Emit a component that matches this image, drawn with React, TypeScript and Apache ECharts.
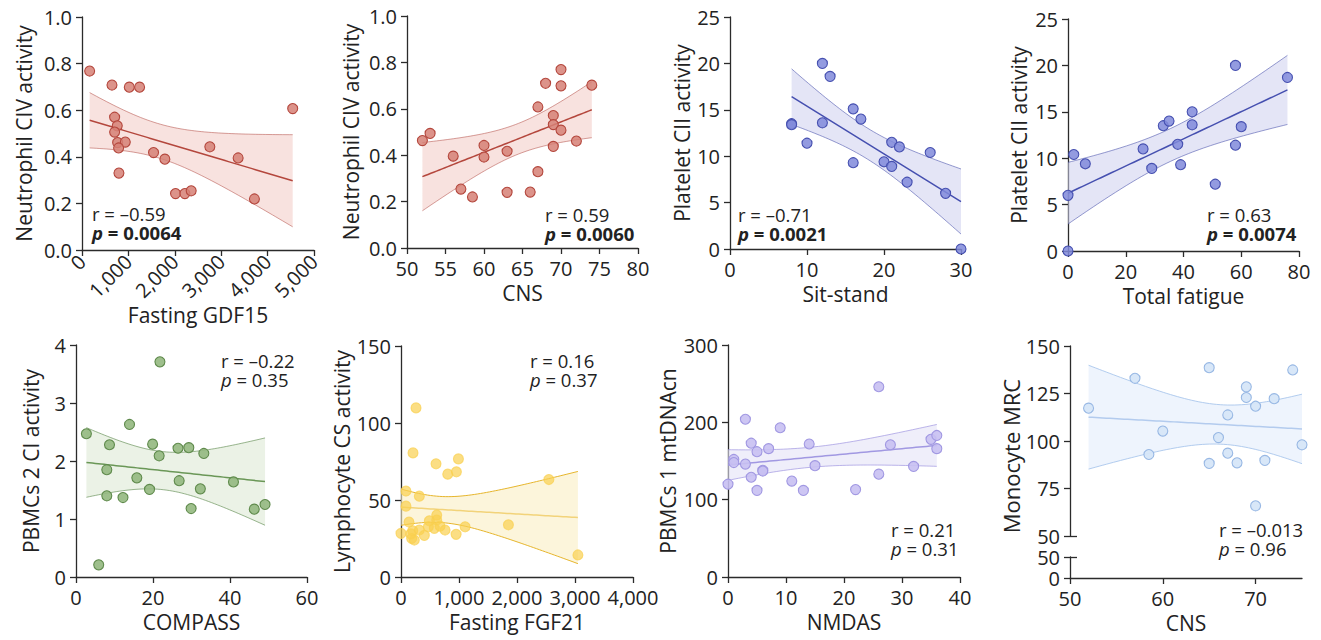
import React, { useEffect, useRef } from "react";
import * as echarts from "echarts";

const FONT = '"Open Sans", "Noto Sans", sans-serif';
const INK = "#222222";
const AXIS = "#2b2b2b";

// ---- Data ----
const P1_X = [165, 646, 1019, 1241, 4541, 703, 760, 703, 768, 933, 789, 796, 1542, 1786, 2755, 3365, 2016, 2217, 2353, 3716];
const P1_Y = [0.768, 0.708, 0.699, 0.699, 0.607, 0.57, 0.533, 0.506, 0.461, 0.463, 0.438, 0.33, 0.418, 0.39, 0.443, 0.395, 0.242, 0.242, 0.254, 0.219];

const P2_X = [52, 53, 56, 57, 58.5, 60, 60, 63, 63, 66, 67, 67, 68, 70, 70, 69, 69, 70, 69, 72, 74];
const P2_Y = [0.463, 0.494, 0.396, 0.254, 0.22, 0.442, 0.392, 0.417, 0.24, 0.241, 0.329, 0.608, 0.71, 0.769, 0.699, 0.571, 0.532, 0.508, 0.438, 0.461, 0.702];

const P3_X = [8, 8, 10, 12, 13, 12, 16, 17, 16, 20, 21, 22, 21, 23, 26, 28, 30];
const P3_Y = [13.5, 13.4, 11.4, 20.0, 18.6, 13.6, 15.1, 14.0, 9.3, 9.4, 11.5, 11.0, 8.9, 7.2, 10.4, 6.0, 0];

const P4_X = [0, 0, 2, 6, 26, 29, 33, 35, 38, 39, 43, 43, 51, 58, 58, 60, 76];
const P4_Y = [0, 6.0, 10.4, 9.4, 11.0, 8.9, 13.5, 14.0, 11.5, 9.3, 15.0, 13.6, 7.2, 20.0, 11.4, 13.4, 18.7];

const P5_X = [2.7, 8.7, 8.0, 8.0, 12.2, 13.9, 15.8, 19.1, 19.9, 21.6, 21.8, 26.5, 26.8, 29.3, 29.9, 32.3, 33.2, 40.9, 46.3, 49.1, 5.9];
const P5_Y = [2.47, 2.28, 1.85, 1.4, 1.37, 2.63, 1.71, 1.51, 2.29, 2.09, 3.71, 2.22, 1.66, 2.23, 1.18, 1.52, 2.13, 1.64, 1.17, 1.25, 0.21];

const P6_X = [259, 207, 604, 990, 955, 806, 86, 316, 86, 138, 0, 202, 184, 230, 316, 402, 489, 616, 616, 575, 673, 760, 950, 1105, 1852, 2550, 3050, 472, 170];
const P6_Y = [109.8, 80.6, 73.5, 76.7, 68.3, 66.8, 55.8, 52.5, 46, 35.7, 28.3, 30, 25, 24, 30.5, 27, 36.5, 40.2, 37, 31.6, 33, 30.5, 27.7, 32.6, 33.9, 63.3, 14.3, 32.6, 28];

const P7_X = [0, 1, 1, 3, 3, 4, 4, 5, 5, 6, 6, 7, 9, 11, 13, 14, 15, 22, 26, 26, 28, 32, 35, 36, 36];
const P7_Y = [120, 152, 148, 204, 146, 173, 129, 162, 112, 138, 137, 166, 193, 124, 112, 172, 144, 113, 246, 133, 171, 143, 178, 183, 166];

const P8_X = [52, 57, 58.5, 60, 65, 65, 66, 67, 67, 68, 69, 69, 70, 70, 71, 72, 74, 75];
const P8_Y = [117.3, 133.0, 92.9, 105.2, 138.6, 88.2, 101.8, 113.7, 93.6, 88.5, 128.5, 122.9, 118.3, 65.9, 89.8, 122.3, 137.4, 98.0];

const X_NAMES = ["Fasting GDF15", "CNS", "Sit-stand", "Total fatigue", "COMPASS", "Fasting FGF21", "NMDAS", "CNS"];
const Y_NAMES = ["Neutrophil CIV activity", "Neutrophil CIV activity", "Platelet CII activity", "Platelet CII activity", "PBMCs 2 CI activity", "Lymphocyte CS activity", "PBMCs 1 mtDNAcn", "Monocyte MRC"];
const R_TEXT = ["r = \u20130.59", "r = 0.59", "r = \u20130.71", "r = 0.63", "r = \u20130.22", "r = 0.16", "r = 0.21", "r = \u20130.013"];
const P_TEXT = ["0.0064", "0.0060", "0.0021", "0.0074", "0.35", "0.37", "0.31", "0.96"];
const SIGNIFICANT = [true, true, true, true, false, false, false, false];

// ---- Regression with 95% confidence band ----
function tCrit(df: number) {
  const table: Record<number, number> = { 14: 2.145, 15: 2.131, 16: 2.12, 17: 2.11, 18: 2.101, 19: 2.093, 20: 2.086, 21: 2.08, 22: 2.074, 23: 2.069, 24: 2.064, 25: 2.06, 26: 2.056, 27: 2.052, 28: 2.048, 29: 2.045, 30: 2.042 };
  return table[df] ?? 2.04;
}
function fit(xs: number[], ys: number[]) {
  const n = xs.length;
  const mx = xs.reduce((a, b) => a + b, 0) / n;
  const my = ys.reduce((a, b) => a + b, 0) / n;
  let sxx = 0, sxy = 0;
  for (let i = 0; i < n; i++) { sxx += (xs[i] - mx) ** 2; sxy += (xs[i] - mx) * (ys[i] - my); }
  const b = sxy / sxx;
  const a = my - b * mx;
  let sse = 0;
  for (let i = 0; i < n; i++) sse += (ys[i] - (a + b * xs[i])) ** 2;
  const s = Math.sqrt(sse / (n - 2));
  const t = tCrit(n - 2);
  const lo = Math.min(...xs), hi = Math.max(...xs);
  const steps = 60;
  const line: number[][] = [], upper: number[][] = [], lower: number[][] = [];
  for (let k = 0; k <= steps; k++) {
    const x = lo + ((hi - lo) * k) / steps;
    const yh = a + b * x;
    const se = s * Math.sqrt(1 / n + (x - mx) ** 2 / sxx);
    line.push([x, yh]);
    upper.push([x, yh + t * se]);
    lower.push([x, yh - t * se]);
  }
  return { line, upper, lower };
}

type Palette = { fill: string; stroke: string; band: string; edge: string; fitLine: string };
const RED: Palette = { fill: "rgba(214,128,118,0.85)", stroke: "#b4473d", band: "rgba(240,190,185,0.45)", edge: "rgba(180,80,72,0.55)", fitLine: "#b4473d" };
const BLUE: Palette = { fill: "rgba(128,138,218,0.85)", stroke: "#4650b0", band: "rgba(205,208,238,0.55)", edge: "rgba(80,88,175,0.6)", fitLine: "#4650b0" };
const GREEN: Palette = { fill: "rgba(148,184,128,0.9)", stroke: "#5f8a4c", band: "rgba(222,233,214,0.6)", edge: "rgba(110,150,95,0.7)", fitLine: "#6a9757" };
const YELLOW: Palette = { fill: "rgba(250,208,80,0.7)", stroke: "rgba(250,208,80,0.7)", band: "rgba(250,238,195,0.6)", edge: "#e6b52c", fitLine: "#f2d37a" };
const LAVENDER: Palette = { fill: "rgba(200,192,242,0.9)", stroke: "#a198e2", band: "rgba(228,226,247,0.6)", edge: "rgba(160,150,225,0.7)", fitLine: "#a198e2" };
const SKY: Palette = { fill: "rgba(214,230,248,0.95)", stroke: "#98b8e4", band: "rgba(226,237,251,0.6)", edge: "rgba(170,198,236,0.9)", fitLine: "#b3cbee" };

type Panel = {
  xs: number[]; ys: number[]; pal: Palette;
  grid: { left: number; top: number; width: number; height: number };
  x: { min: number; max: number; interval: number; comma?: boolean; rotate?: number };
  y: { min: number; max: number; interval: number; dec?: number };
  yGap: number;
  stats: { left: number; y1: number };
};

const PANELS: Panel[] = [
  { xs: P1_X, ys: P1_Y, pal: RED, grid: { left: 82, top: 17, width: 232, height: 233 }, x: { min: 0, max: 5000, interval: 1000, comma: true, rotate: 45 }, y: { min: 0, max: 1, interval: 0.2, dec: 1 }, yGap: 48, stats: { left: 92, y1: 213 } },
  { xs: P2_X, ys: P2_Y, pal: RED, grid: { left: 407, top: 16, width: 231, height: 232 }, x: { min: 50, max: 80, interval: 5 }, y: { min: 0, max: 1, interval: 0.2, dec: 1 }, yGap: 46, stats: { left: 545, y1: 214 } },
  { xs: P3_X, ys: P3_Y, pal: BLUE, grid: { left: 730, top: 17, width: 231, height: 232 }, x: { min: 0, max: 30, interval: 10 }, y: { min: 0, max: 25, interval: 5 }, yGap: 38, stats: { left: 738, y1: 214 } },
  { xs: P4_X, ys: P4_Y, pal: BLUE, grid: { left: 1068, top: 19, width: 231, height: 232 }, x: { min: 0, max: 80, interval: 20 }, y: { min: 0, max: 25, interval: 5 }, yGap: 39, stats: { left: 1207, y1: 214 } },
  { xs: P5_X, ys: P5_Y, pal: GREEN, grid: { left: 76, top: 345, width: 231, height: 232 }, x: { min: 0, max: 60, interval: 20 }, y: { min: 0, max: 4, interval: 1 }, yGap: 35, stats: { left: 221, y1: 360 } },
  { xs: P6_X, ys: P6_Y, pal: YELLOW, grid: { left: 401, top: 346, width: 232, height: 231 }, x: { min: 0, max: 4000, interval: 1000, comma: true }, y: { min: 0, max: 150, interval: 50 }, yGap: 47, stats: { left: 530, y1: 360 } },
  { xs: P7_X, ys: P7_Y, pal: LAVENDER, grid: { left: 728, top: 345, width: 232, height: 232 }, x: { min: 0, max: 40, interval: 10 }, y: { min: 0, max: 300, interval: 100 }, yGap: 50, stats: { left: 891, y1: 529 } },
];
const P8_STATS = { left: 1219, y1: 529 };
const STAT_LH = 19;

const axisLineStyle = { color: AXIS, width: 1.3 };
const labelStyle = { color: INK, fontSize: 20, fontFamily: FONT };
const nameStyle = { color: INK, fontSize: 21, fontFamily: FONT };

function fmt(v: number, comma?: boolean, dec?: number) {
  if (dec !== undefined) return v.toFixed(dec);
  if (comma) return v.toLocaleString("en-US");
  return String(v);
}

function buildOption() {
  const grid: any[] = [];
  const xAxis: any[] = [];
  const yAxis: any[] = [];
  const series: any[] = [];
  const graphic: any[] = [];

  const addSeries = (xs: number[], ys: number[], pal: Palette, xi: number, yi: number) => {
    const f = fit(xs, ys);
    const upper = f.upper, lower = f.lower;
    series.push({
      type: "custom", xAxisIndex: xi, yAxisIndex: yi, silent: true, z: 1,
      data: upper,
      renderItem: (params: any, api: any) => {
        if (params.dataIndex !== 0) return null;
        const pts = upper.map((p) => api.coord(p)).concat(lower.slice().reverse().map((p) => api.coord(p)));
        return { type: "polygon", shape: { points: pts }, style: { fill: pal.band } };
      },
    });
    series.push({ type: "line", xAxisIndex: xi, yAxisIndex: yi, data: upper, symbol: "none", silent: true, z: 2, lineStyle: { color: pal.edge, width: 1 } });
    series.push({ type: "line", xAxisIndex: xi, yAxisIndex: yi, data: lower, symbol: "none", silent: true, z: 2, lineStyle: { color: pal.edge, width: 1 } });
    series.push({ type: "line", xAxisIndex: xi, yAxisIndex: yi, data: f.line, symbol: "none", silent: true, z: 3, lineStyle: { color: pal.fitLine, width: 1.5 } });
    series.push({
      type: "scatter", xAxisIndex: xi, yAxisIndex: yi, z: 5,
      data: xs.map((x, i) => [x, ys[i]]),
      symbolSize: 10,
      itemStyle: { color: pal.fill, borderColor: pal.stroke, borderWidth: 1.1, opacity: 1 },
    });
  };

  PANELS.forEach((p, i) => {
    grid.push({ ...p.grid, containLabel: false });
    xAxis.push({
      type: "value", gridIndex: i, min: p.x.min, max: p.x.max, interval: p.x.interval,
      name: X_NAMES[i], nameLocation: "middle", nameGap: p.x.rotate ? 40 : 34, nameTextStyle: nameStyle,
      axisLine: { lineStyle: axisLineStyle, onZero: false }, axisTick: { length: 6, lineStyle: axisLineStyle },
      splitLine: { show: false },
      axisLabel: { ...labelStyle, margin: p.x.rotate ? 8 : 10, rotate: p.x.rotate || 0, formatter: (v: number) => fmt(v, p.x.comma) },
    });
    yAxis.push({
      type: "value", gridIndex: i, min: p.y.min, max: p.y.max, interval: p.y.interval,
      name: Y_NAMES[i], nameLocation: "middle", nameGap: p.yGap, nameTextStyle: nameStyle,
      axisLine: { lineStyle: axisLineStyle, onZero: false }, axisTick: { length: 6, lineStyle: axisLineStyle },
      splitLine: { show: false },
      axisLabel: { ...labelStyle, margin: 10, formatter: (v: number) => fmt(v, false, p.y.dec) },
    });
    addSeries(p.xs, p.ys, p.pal, i, i);
  });

  // Panel 8: broken y axis (upper 50-150, lower 0-50)
  const gu = grid.length;
  grid.push({ left: 1070, top: 346, width: 232, height: 190 });
  const xu = xAxis.length;
  xAxis.push({ type: "value", gridIndex: gu, min: 50, max: 75, show: false, splitLine: { show: false } });
  const yu = yAxis.length;
  yAxis.push({
    type: "value", gridIndex: gu, min: 50, max: 150, interval: 25, position: "left",
    name: Y_NAMES[7], nameLocation: "middle", nameGap: 47, nameTextStyle: { ...nameStyle, fontSize: 22, padding: [0, 30, 0, 0] },
    axisLine: { lineStyle: axisLineStyle, onZero: false }, axisTick: { length: 6, lineStyle: axisLineStyle },
    splitLine: { show: false }, axisLabel: { ...labelStyle, margin: 10 },
  });
  addSeries(P8_X, P8_Y, SKY, xu, yu);

  const gl = grid.length;
  grid.push({ left: 1070, top: 557, width: 232, height: 21 });
  xAxis.push({
    type: "value", gridIndex: gl, min: 50, max: 75,
    name: X_NAMES[7], nameLocation: "middle", nameGap: 34, nameTextStyle: nameStyle,
    axisLine: { lineStyle: axisLineStyle, onZero: false },
    axisTick: { length: 6, lineStyle: axisLineStyle, customValues: [50, 60, 70] },
    splitLine: { show: false },
    axisLabel: { ...labelStyle, margin: 10, customValues: [50, 60, 70] },
  });
  yAxis.push({
    type: "value", gridIndex: gl, min: 0, max: 50, interval: 50, position: "left",
    axisLine: { lineStyle: axisLineStyle, onZero: false }, axisTick: { length: 6, lineStyle: axisLineStyle },
    splitLine: { show: false }, axisLabel: { ...labelStyle, margin: 10 },
  });
  // inward break ticks at the 50 ends of both segments (same left side)
  yAxis.push({
    type: "value", gridIndex: gu, min: 50, max: 150, position: "left", offset: 0,
    axisLine: { show: false, onZero: false }, axisLabel: { show: false }, splitLine: { show: false },
    axisTick: { inside: true, length: 7, lineStyle: axisLineStyle, customValues: [50] },
  });
  yAxis.push({
    type: "value", gridIndex: gl, min: 0, max: 50, position: "left", offset: 0,
    axisLine: { show: false, onZero: false }, axisLabel: { show: false }, splitLine: { show: false },
    axisTick: { inside: true, length: 7, lineStyle: axisLineStyle, customValues: [50] },
  });

  // Stats text: one two-line text per panel
  const statPos = PANELS.map((p) => p.stats).concat([P8_STATS]);
  statPos.forEach((s, i) => {
    const bold = SIGNIFICANT[i];
    const fs = 18.5;
    graphic.push({
      type: "text", left: s.left, top: s.y1 - STAT_LH / 2, z: 10,
      style: {
        text: "{r|" + R_TEXT[i] + "}\n{p|p}{v| = " + P_TEXT[i] + "}",
        fill: INK, fontSize: fs, fontFamily: FONT, lineHeight: STAT_LH,
        rich: {
          r: { fontSize: fs, fontFamily: FONT, fill: INK, lineHeight: STAT_LH },
          p: { fontStyle: "italic", fontWeight: bold ? "bold" : "normal", fontSize: fs, fontFamily: FONT, fill: INK, lineHeight: STAT_LH },
          v: { fontWeight: bold ? "bold" : "normal", fontSize: fs, fontFamily: FONT, fill: INK, lineHeight: STAT_LH },
        },
      },
    });
  });

  return { animation: false, backgroundColor: "#ffffff", grid, xAxis, yAxis, series, graphic };
}

export default function App() {
  const ref = useRef<HTMLDivElement>(null);
  useEffect(() => {
    if (!ref.current) return;
    const chart = echarts.init(ref.current, undefined, { renderer: "svg" });
    chart.setOption(buildOption() as any);
    return () => chart.dispose();
  }, []);
  return <div ref={ref} style={{ position: "fixed", left: 0, top: 0, width: 1321, height: 640, background: "#fff" }} />;
}
